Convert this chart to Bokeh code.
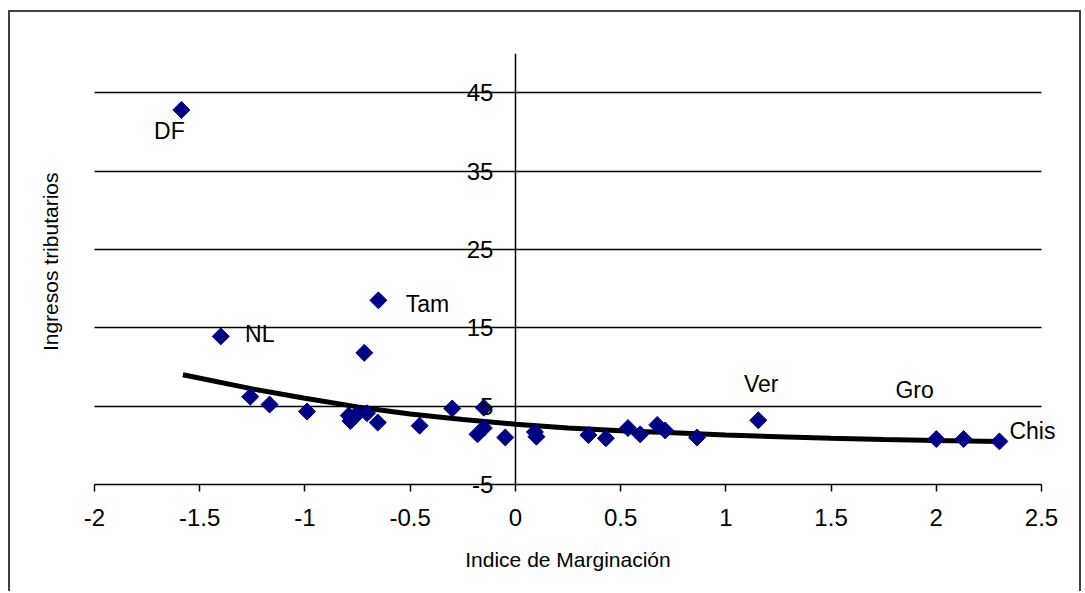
import numpy as np
from bokeh.plotting import figure
from bokeh.models import Range1d, FixedTicker, ColumnDataSource, LabelSet, Title
from bokeh.core.properties import value
from bokeh.embed import file_html
from bokeh.resources import INLINE

# ---------------- data ----------------
indice = [-1.587, -1.40, -0.651, -0.718, -1.26, -1.168, -0.99, -0.792, -0.784, -0.752,
          -0.705, -0.654, -0.455, -0.30, -0.15, -0.18, -0.15, -0.048, 0.093, 0.10,
          0.347, 0.43, 0.535, 0.593, 0.674, 0.712, 0.863, 1.154, 2.00, 2.13, 2.30, -0.77]
ingresos = [42.8, 13.9, 18.5, 11.8, 6.2, 5.2, 4.3, 3.8, 3.1, 4.0,
            4.1, 2.9, 2.5, 4.7, 4.8, 1.4, 2.2, 1.0, 1.7, 1.1,
            1.3, 0.9, 2.2, 1.4, 2.6, 1.9, 1.0, 3.2, 0.8, 0.8, 0.5, 3.5]

# which points carry a name
label_names = ["DF", "NL", "Tam", "Ver", "Gro", "Chis"]
label_index = [0, 1, 2, 27, 29, 30]

# trend line as drawn in the picture
trend_x = [-1.58, -1.25, -1.0, -0.75, -0.5, -0.25, 0.0, 0.25, 0.5, 0.75,
           1.0, 1.25, 1.5, 1.75, 2.0, 2.3]
trend_y = [9.0, 7.2, 6.0, 4.9, 4.0, 3.3, 2.7, 2.2, 1.85, 1.6,
           1.3, 1.1, 0.9, 0.75, 0.62, 0.5]

x_ticks = [-2, -1.5, -1, -0.5, 0, 0.5, 1, 1.5, 2, 2.5]
x_tick_labels = ["-2", "-1.5", "-1", "-0.5", "0", "0.5", "1", "1.5", "2", "2.5"]
y_ticks = [-5, 5, 15, 25, 35, 45]
y_tick_labels = ["-5", "5", "15", "25", "35", "45"]
grid_ticks = [5, 15, 25, 35, 45]

x_title = "Indice de Marginación"
y_title = "Ingresos tributarios"

# ---------------- styling ----------------
FONT = "Liberation Sans"
X_MIN, X_MAX = -2, 2.5
Y_MIN, Y_MAX = -5, 50
# label offsets in screen px (right, up)
lab_dx = [-12, 39, 49, 3, -49, 33]
lab_dy = [-21, 2, -4, 36, 49, 10]

p = figure(width=1073, height=581,
           x_range=Range1d(-2.095, 2.6616), y_range=Range1d(-18.53, Y_MAX),
           output_backend="svg", toolbar_location=None,
           min_border_left=64, min_border_right=8,
           min_border_top=41, min_border_bottom=3)
p.outline_line_color = None
p.background_fill_color = "white"
p.border_fill_color = "white"
p.styles = {"margin-left": "8px", "margin-top": "10px",
            "border-top": "2px solid #404040",
            "border-left": "2px solid #404040",
            "border-right": "2px solid #404040"}

# x axis crossing at y = -5
xa = p.xaxis[0]
xa.fixed_location = Y_MIN
xa.bounds = (X_MIN, X_MAX)
xa.ticker = FixedTicker(ticks=x_ticks)
xa.major_label_overrides = dict(zip(x_ticks, x_tick_labels))
xa.axis_line_color = "black"
xa.axis_line_width = 1.5
xa.major_tick_line_color = "black"
xa.major_tick_line_width = 1.5
xa.major_tick_out = 7
xa.major_tick_in = 0
xa.minor_tick_line_color = None
xa.major_label_text_font = FONT
xa.major_label_text_font_size = "24px"
xa.major_label_text_color = "black"
xa.major_label_standoff = 18
xa.axis_label = x_title
xa.axis_label_text_font = FONT
xa.axis_label_text_font_size = "21px"
xa.axis_label_text_font_style = "normal"
xa.axis_label_text_color = "black"
xa.axis_label_standoff = 18

# y axis crossing at x = 0
ya = p.yaxis[0]
ya.fixed_location = 0
ya.bounds = (Y_MIN, Y_MAX)
ya.ticker = FixedTicker(ticks=y_ticks)
ya.major_label_overrides = dict(zip(y_ticks, y_tick_labels))
ya.axis_line_color = "black"
ya.axis_line_width = 1.5
ya.major_tick_out = 0
ya.major_tick_in = 0
ya.minor_tick_line_color = None
ya.major_label_text_font = FONT
ya.major_label_text_font_size = "24px"
ya.major_label_text_color = "black"
ya.major_label_standoff = 22

# y title on the left edge
p.add_layout(Title(text=y_title, align="right", offset=119, standoff=25,
                   text_font=FONT, text_font_size="21px",
                   text_font_style="normal", text_color="black"), "left")

# grid
p.xgrid.visible = False
p.ygrid.ticker = FixedTicker(ticks=grid_ticks)
p.ygrid.bounds = (Y_MIN, Y_MAX)
p.ygrid.cross_bounds = (X_MIN, X_MAX)
p.ygrid.grid_line_color = "black"
p.ygrid.grid_line_width = 1.5

# trend line
p.line(trend_x, trend_y, line_color="black", line_width=5)

# points
p.scatter(indice, ingresos, marker="square", angle=np.pi / 4, size=12,
          fill_color="#000080", line_color="#000080")

# labels
lab_src = ColumnDataSource(dict(
    x=[indice[i] for i in label_index],
    y=[ingresos[i] for i in label_index],
    text=label_names, dx=lab_dx, dy=lab_dy))
p.add_layout(LabelSet(x="x", y="y", text="text", x_offset="dx", y_offset="dy",
                      source=lab_src, text_font=value(FONT), text_font_size="23px",
                      text_color="black", text_align="center", text_baseline="middle"))

open("out.html", "w").write(file_html(p, INLINE))
